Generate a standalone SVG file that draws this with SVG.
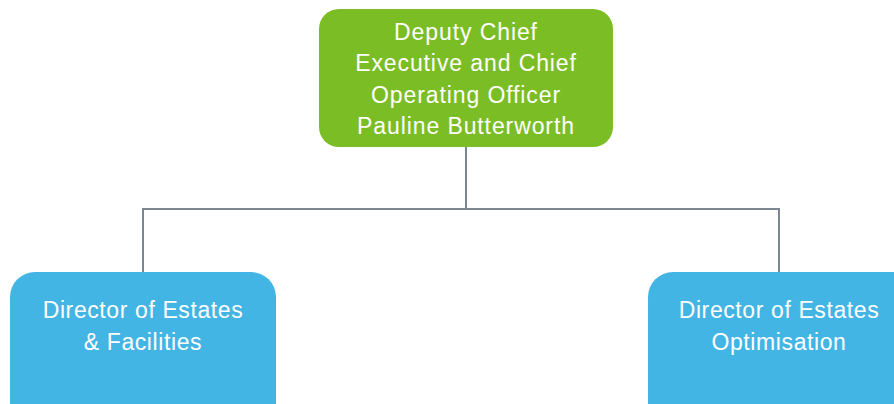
<svg xmlns="http://www.w3.org/2000/svg" width="894" height="404" viewBox="0 0 894 404">
<style>
.lbl{font-family:"Liberation Sans",Arial,sans-serif;font-size:23px;fill:#ffffff;text-anchor:middle;letter-spacing:0.6px}
.top{letter-spacing:0.9px}
.conn{fill:none;stroke:#7b8791;stroke-width:2}
.green{fill:#7bbd24}
.blue{fill:#42b5e5}
</style>
<rect width="894" height="404" fill="#ffffff"/>
<g id="connectors">
<path class="conn" d="M466,147 V209 M143,272 V209 H779 V272"/>
</g>
<g id="node-deputy">
<rect class="green" x="319" y="9" width="294" height="138" rx="20"/>
<text class="lbl top" x="466" y="40">Deputy Chief</text>
<text class="lbl top" x="466" y="71">Executive and Chief</text>
<text class="lbl top" x="466" y="103">Operating Officer</text>
<text class="lbl top" x="466" y="134">Pauline Butterworth</text>
</g>
<g id="node-estates-facilities">
<rect class="blue" x="10" y="272" width="266" height="160" rx="25"/>
<text class="lbl" x="143" y="318">Director of Estates</text>
<text class="lbl" x="143" y="350">&amp; Facilities</text>
</g>
<g id="node-estates-optimisation">
<rect class="blue" x="648" y="272" width="270" height="160" rx="25"/>
<text class="lbl" x="779" y="318">Director of Estates</text>
<text class="lbl" x="779" y="350">Optimisation</text>
</g>
</svg>
